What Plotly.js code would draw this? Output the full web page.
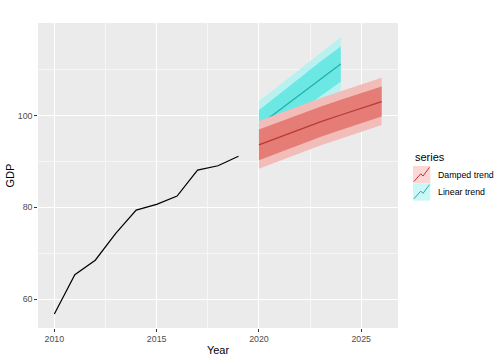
<!DOCTYPE html>
<html>
<head>
<meta charset="utf-8">
<script src="https://cdn.plot.ly/plotly-3.0.1.min.js"></script>
<style>html,body{margin:0;padding:0;background:#fff;}#chart{width:504px;height:360px;}</style>
</head>
<body>
<div id="chart"></div>
<script>
// Historical data
const years = [2010, 2011, 2012, 2013, 2014, 2015, 2016, 2017, 2018, 2019];
const gdp = [56.8, 65.35, 68.5, 74.35, 79.4, 80.65, 82.45, 88.1, 89.05, 91.1];

// Damped trend forecast
const dampedYears = [2020, 2021, 2022, 2023, 2024, 2025, 2026];
const dampedMean = [93.6, 95.3, 97.0, 98.6, 100.1, 101.6, 103.0];
const dampedLo80 = [90.25, 91.95, 93.65, 95.3, 96.8, 98.3, 99.75];
const dampedHi80 = [96.95, 98.65, 100.35, 101.9, 103.4, 104.9, 106.3];
const dampedLo95 = [88.4, 90.1, 91.8, 93.45, 94.95, 96.45, 97.9];
const dampedHi95 = [98.8, 100.5, 102.2, 103.75, 105.25, 106.75, 108.2];

// Linear trend forecast
const linearYears = [2020, 2021, 2022, 2023, 2024];
const linearMean = [97.8, 101.2, 104.5, 107.9, 111.2];
const linearLo80 = [94.5, 97.75, 100.9, 104.15, 107.3];
const linearHi80 = [101.1, 104.65, 108.1, 111.65, 115.0];
const linearLo95 = [92.6, 95.85, 99.0, 102.25, 105.4];
const linearHi95 = [103.1, 106.55, 110.0, 113.55, 117.0];

const yTicks = [60, 80, 100];
const xTicks = [2010, 2015, 2020, 2025];
const seriesNames = ['Damped trend', 'Linear trend'];
const legendTitle = 'series';

const C = {
  redLight: '#F2BDB9', redDark: '#E57C75', redLine: '#B83A31',
  cyanLight: '#B8F1F0', cyanDark: '#6BE7E4', cyanLine: '#20AEAD',
  redKey: '#FBD7D5', cyanKey: '#CCF7F7'
};

function band(x, lo, hi, color) {
  return [
    {x: x, y: lo, type: 'scatter', mode: 'lines', line: {width: 0, color: color}, hoverinfo: 'skip', showlegend: false},
    {x: x, y: hi, type: 'scatter', mode: 'lines', line: {width: 0, color: color}, fill: 'tonexty', fillcolor: color, hoverinfo: 'skip', showlegend: false}
  ];
}

const traces = [
  {x: years, y: gdp, type: 'scatter', mode: 'lines', line: {color: '#000000', width: 1.2}, showlegend: false},
  ...band(linearYears, linearLo95, linearHi95, C.cyanLight),
  ...band(linearYears, linearLo80, linearHi80, C.cyanDark),
  {x: linearYears, y: linearMean, type: 'scatter', mode: 'lines', line: {color: C.cyanLine, width: 1.2}, showlegend: false},
  ...band(dampedYears, dampedLo95, dampedHi95, C.redLight),
  ...band(dampedYears, dampedLo80, dampedHi80, C.redDark),
  {x: dampedYears, y: dampedMean, type: 'scatter', mode: 'lines', line: {color: C.redLine, width: 1.2}, showlegend: false}
];

// pixel -> paper helpers for the hand-made legend
const L = 38, R = 398, T = 23, B = 328;
const px = p => (p - L) / (R - L);
const py = p => (B - p) / (B - T);

const keyColors = [[C.redKey, C.redLine], [C.cyanKey, C.cyanLine]];
const shapes = [];
const annotations = [{
  x: px(413), y: py(157), xref: 'paper', yref: 'paper', xanchor: 'left', yanchor: 'middle',
  text: legendTitle, showarrow: false, font: {family: 'Liberation Sans, Arial, sans-serif', size: 11, color: '#000'}
}];
seriesNames.forEach((name, i) => {
  const top = 166 + i * 17.3, bot = top + 17.3;
  const x0 = 413, x1 = 430.3;
  shapes.push({type: 'rect', xref: 'paper', yref: 'paper', x0: px(x0), x1: px(x1), y0: py(bot), y1: py(top),
    fillcolor: keyColors[i][0], line: {width: 0}, layer: 'above'});
  const pts = [[0.05, 0.1], [0.45, 0.55], [0.58, 0.42], [0.95, 0.92]]
    .map(([fx, fy]) => `${px(x0 + fx * (x1 - x0))},${py(bot - fy * (bot - top))}`);
  shapes.push({type: 'path', xref: 'paper', yref: 'paper', path: 'M' + pts.join('L'),
    line: {color: keyColors[i][1], width: 1}, layer: 'above'});
  annotations.push({x: px(436), y: py((top + bot) / 2), xref: 'paper', yref: 'paper', xanchor: 'left', yanchor: 'middle',
    text: name, showarrow: false, font: {family: 'Liberation Sans, Arial, sans-serif', size: 8.8, color: '#000'}});
});

const layout = {
  width: 504, height: 360,
  margin: {l: L, r: 504 - R, t: T, b: 360 - B, pad: 0},
  paper_bgcolor: '#FFFFFF', plot_bgcolor: '#EBEBEB',
  showlegend: false,
  font: {family: 'Liberation Sans, Arial, sans-serif', color: '#000'},
  xaxis: {
    range: [2009.2, 2026.8], tickmode: 'array', tickvals: xTicks, showgrid: true, gridcolor: '#FFFFFF', gridwidth: 1.07,
    minor: {tick0: 2010, dtick: 2.5, showgrid: true, gridcolor: '#FFFFFF', gridwidth: 0.53, ticks: ''},
    zeroline: false, showline: false, ticks: 'outside', ticklen: 2.75, tickwidth: 1.07, tickcolor: '#333333',
    tickfont: {size: 8.8, color: '#4D4D4D'},
    title: {text: 'Year', font: {size: 11, color: '#000'}, standoff: 2}
  },
  yaxis: {
    range: [53.76, 120.1], tickmode: 'array', tickvals: yTicks, showgrid: true, gridcolor: '#FFFFFF', gridwidth: 1.07,
    minor: {tick0: 0, dtick: 10, showgrid: true, gridcolor: '#FFFFFF', gridwidth: 0.53, ticks: ''},
    zeroline: false, showline: false, ticks: 'outside', ticklen: 2.75, tickwidth: 1.07, tickcolor: '#333333',
    tickfont: {size: 8.8, color: '#4D4D4D'},
    title: {text: 'GDP', font: {size: 11, color: '#000'}, standoff: 0}
  },
  shapes: shapes,
  annotations: annotations
};

Plotly.newPlot('chart', traces, layout, {displayModeBar: false, staticPlot: true});
</script>
</body>
</html>
